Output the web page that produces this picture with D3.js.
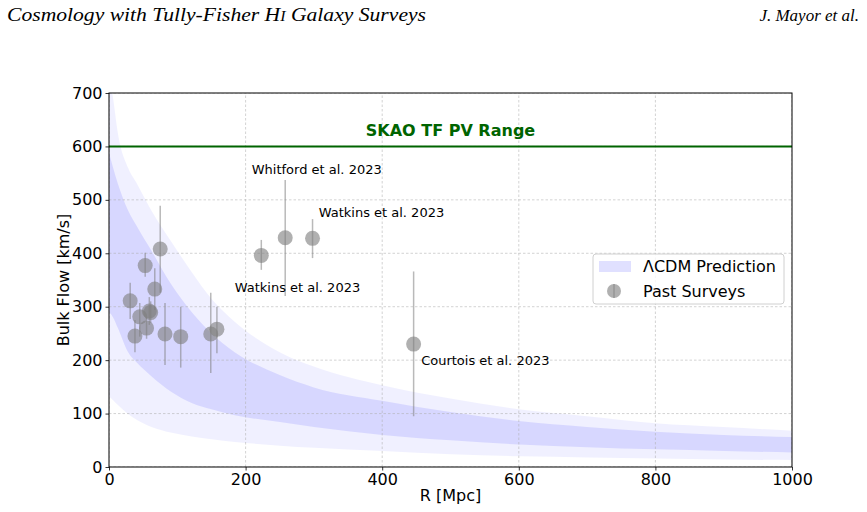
<!DOCTYPE html>
<html>
<head>
<meta charset="utf-8">
<script src="https://cdn.jsdelivr.net/npm/d3@7"></script>
<style>
  body { margin: 0; background: #fff; }
  svg { display: block; }
  text { font-family: "DejaVu Sans", sans-serif; }
</style>
</head>
<body>
<div id="chart"></div>
<script>
// LCDM prediction band boundaries (km/s) sampled along R (Mpc)
var bandR   = [0, 6, 13, 28, 41, 62, 92, 121, 150, 184, 250, 300, 400, 500, 600, 700, 800, 900, 1000];
var outerHi = [740, 690, 625, 560, 530, 480, 420, 365, 315, 272, 215, 188, 153, 128, 108, 95, 82, 75, 68];
var innerHi = [588, 560, 530, 480, 450, 405, 340, 290, 250, 215, 172, 149, 124, 103, 86, 75, 66, 60, 56];
var innerLo = [290, 280, 260, 215, 195, 170, 140, 120, 108, 97, 84, 75, 60, 50, 42, 37, 33, 30, 27];
var outerLo = [132, 125, 116, 99, 88, 75, 64, 57, 52, 47, 40, 36, 30, 24, 20, 18, 16, 14, 13];

// past bulk flow surveys
var surveyR  = [31, 38, 45, 53, 55, 59, 61, 67, 75, 82, 105, 149, 158, 223, 258, 298, 446];
var surveyV  = [311, 245, 281, 377, 260, 292, 289, 333, 408, 249, 244, 249, 258, 396, 429, 428, 230];
var surveyLo = [277, 215, 244, 356, 240, 266, 270, 294, 326, 191, 186, 176, 213, 369, 320, 391, 95];
var surveyHi = [345, 275, 307, 401, 280, 318, 310, 372, 489, 307, 300, 326, 300, 425, 537, 464, 366];

// annotations
var noteText = ["Whitford et al. 2023", "Watkins et al. 2023", "Watkins et al. 2023", "Courtois et al. 2023"];
var noteR    = [209, 307, 184, 457];
var noteV    = [549, 468, 328, 190];

var xTicks = [0, 200, 400, 600, 800, 1000];
var yTicks = [0, 100, 200, 300, 400, 500, 600, 700];
var skaoLevel = 600;

var width = 867, height = 512;
var margin = {left: 109, right: 75, top: 93, bottom: 45};

var svg = d3.select("#chart").append("svg")
  .attr("width", width)
  .attr("height", height);

// page header
svg.append("text")
  .attr("x", 7).attr("y", 21)
  .attr("textLength", 419).attr("lengthAdjust", "spacingAndGlyphs")
  .style("font-family", "'Liberation Serif', serif")
  .style("font-style", "italic").style("font-size", "19px")
  .text("Cosmology with Tully-Fisher H")
  .append("tspan").style("font-size", "14px").text("I")
  .append("tspan").style("font-size", "19px").text(" Galaxy Surveys");
svg.append("text")
  .attr("x", 859).attr("y", 21)
  .attr("text-anchor", "end")
  .style("font-family", "'Liberation Serif', serif")
  .style("font-style", "italic").style("font-size", "17px")
  .text("J. Mayor et al.");

var x = d3.scaleLinear().domain([0, 1000]).range([margin.left, width - margin.right]);
var y = d3.scaleLinear().domain([0, 700]).range([height - margin.bottom, margin.top]);

svg.append("clipPath").attr("id", "plotclip")
  .append("rect")
  .attr("x", x(0)).attr("y", y(700))
  .attr("width", x(1000) - x(0)).attr("height", y(0) - y(700));

var plot = svg.append("g").attr("clip-path", "url(#plotclip)");

// bands
var idx = d3.range(bandR.length);
function band(hi, lo) {
  return d3.area()
    .x(function(i){ return x(bandR[i]); })
    .y0(function(i){ return y(lo[i]); })
    .y1(function(i){ return y(hi[i]); })
    .curve(d3.curveMonotoneX)(idx);
}
plot.append("path").attr("d", band(outerHi, outerLo))
  .attr("fill", "blue").attr("fill-opacity", 0.06);
plot.append("path").attr("d", band(innerHi, innerLo))
  .attr("fill", "blue").attr("fill-opacity", 0.1);

// grid
plot.selectAll(".vgrid").data(xTicks).enter().append("line")
  .attr("x1", function(d){ return x(d); }).attr("x2", function(d){ return x(d); })
  .attr("y1", y(0)).attr("y2", y(700))
  .attr("stroke", "#b0b0b0").attr("stroke-width", 0.8)
  .attr("stroke-dasharray", "2.5,2").attr("stroke-opacity", 0.7);
plot.selectAll(".hgrid").data(yTicks).enter().append("line")
  .attr("y1", function(d){ return y(d); }).attr("y2", function(d){ return y(d); })
  .attr("x1", x(0)).attr("x2", x(1000))
  .attr("stroke", "#b0b0b0").attr("stroke-width", 0.8)
  .attr("stroke-dasharray", "2.5,2").attr("stroke-opacity", 0.7);

// SKAO line
plot.append("line")
  .attr("x1", x(0)).attr("x2", x(1000))
  .attr("y1", y(skaoLevel)).attr("y2", y(skaoLevel))
  .attr("stroke", "#006400").attr("stroke-width", 2);
svg.append("text")
  .attr("x", x(500)).attr("y", y(skaoLevel) - 10)
  .attr("text-anchor", "middle")
  .style("font-size", "16px").style("font-weight", "bold")
  .attr("fill", "#006400")
  .text("SKAO TF PV Range");

// error bars and points
var sIdx = d3.range(surveyR.length);
plot.selectAll(".err").data(sIdx).enter().append("line")
  .attr("x1", function(i){ return x(surveyR[i]); })
  .attr("x2", function(i){ return x(surveyR[i]); })
  .attr("y1", function(i){ return y(surveyLo[i]); })
  .attr("y2", function(i){ return y(surveyHi[i]); })
  .attr("stroke", "#808080").attr("stroke-opacity", 0.55).attr("stroke-width", 1.5);
plot.selectAll(".dot").data(sIdx).enter().append("circle")
  .attr("cx", function(i){ return x(surveyR[i]); })
  .attr("cy", function(i){ return y(surveyV[i]); })
  .attr("r", 7.5)
  .attr("fill", "#808080").attr("fill-opacity", 0.62);

// annotations
svg.selectAll(".note").data(noteText).enter().append("text")
  .attr("x", function(d, i){ return x(noteR[i]); })
  .attr("y", function(d, i){ return y(noteV[i]); })
  .style("font-size", "13px")
  .text(function(d){ return d; });

// axes
var xAxis = svg.append("g")
  .attr("transform", "translate(0," + y(0) + ")")
  .call(d3.axisBottom(x).tickValues(xTicks).tickFormat(d3.format("d")).tickSize(3.5).tickPadding(3));
var yAxis = svg.append("g")
  .attr("transform", "translate(" + x(0) + ",0)")
  .call(d3.axisLeft(y).tickValues(yTicks).tickFormat(d3.format("d")).tickSize(3.5).tickPadding(3));
[xAxis, yAxis].forEach(function(a){
  a.select(".domain").remove();
  a.selectAll("text").style("font-size", "16px").style("font-family", "DejaVu Sans").attr("fill", "#000");
  a.selectAll("line").attr("stroke", "#000").attr("stroke-width", 0.8);
});

// frame
svg.append("rect")
  .attr("x", x(0)).attr("y", y(700))
  .attr("width", x(1000) - x(0)).attr("height", y(0) - y(700))
  .attr("fill", "none").attr("stroke", "#000").attr("stroke-width", 1);

// axis titles
svg.append("text")
  .attr("x", x(500)).attr("y", 501)
  .attr("text-anchor", "middle").style("font-size", "16px")
  .text("R [Mpc]");
svg.append("text")
  .attr("transform", "translate(69," + y(350) + ") rotate(-90)")
  .attr("text-anchor", "middle").style("font-size", "16px")
  .text("Bulk Flow [km/s]");

// legend
var leg = svg.append("g").attr("transform", "translate(593,254)");
leg.append("rect").attr("width", 191).attr("height", 50).attr("rx", 3)
  .attr("fill", "#fff").attr("fill-opacity", 0.8)
  .attr("stroke", "#d0d0d0").attr("stroke-width", 1);
leg.append("rect").attr("x", 6).attr("y", 7).attr("width", 32).attr("height", 11)
  .attr("fill", "blue").attr("fill-opacity", 0.12);
leg.append("text").attr("x", 50).attr("y", 18).style("font-size", "16px").text("ΛCDM Prediction");
leg.append("line").attr("x1", 21).attr("x2", 21).attr("y1", 30).attr("y2", 44)
  .attr("stroke", "#808080").attr("stroke-opacity", 0.55).attr("stroke-width", 1.5);
leg.append("circle").attr("cx", 21).attr("cy", 37).attr("r", 7)
  .attr("fill", "#808080").attr("fill-opacity", 0.62);
leg.append("text").attr("x", 50).attr("y", 43).style("font-size", "16px").text("Past Surveys");
</script>
</body>
</html>
